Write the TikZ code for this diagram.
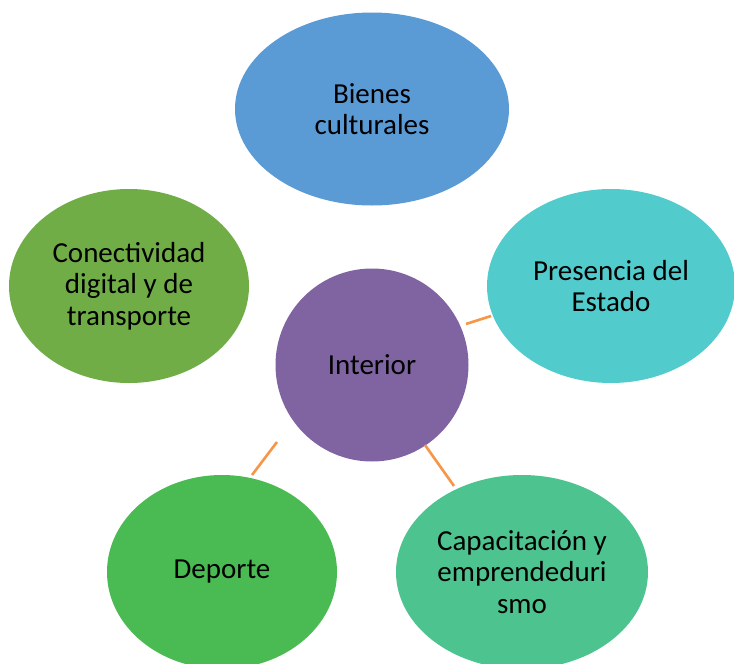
\documentclass[tikz,border=0pt]{standalone}
\usepackage{fontspec}
\setmainfont{Carlito}
\usetikzlibrary{shapes.geometric}
\definecolor{cBlue}{HTML}{5B9BD5}
\definecolor{cOlive}{HTML}{70AD47}
\definecolor{cTeal}{HTML}{51CBCC}
\definecolor{cPurple}{HTML}{8064A2}
\definecolor{cGreen}{HTML}{4ABA52}
\definecolor{cMint}{HTML}{4DC38F}
\definecolor{cOrange}{HTML}{F79646}
\tikzset{
  bubble/.style={ellipse, inner sep=0pt, align=center, text=black,
    font=\fontsize{29}{31.5}\selectfont},
  conn/.style={draw=cOrange, line width=2.6pt}
}
\begin{document}
\begin{tikzpicture}[x=1pt, y=-1pt]
\useasboundingbox (0,0) rectangle (734,664);
\fill[white] (0,0) rectangle (734,664);
\node[bubble, fill=cBlue, minimum width=274pt, minimum height=193pt] (bienes) at (372,109) {Bienes\\culturales};
\node[bubble, fill=cOlive, minimum width=240pt, minimum height=194pt] (conect) at (129,286) {Conectividad\\digital y de\\transporte};
\node[bubble, fill=cTeal, minimum width=248pt, minimum height=194pt] (pres) at (611,286) {Presencia del\\Estado};
\node[bubble, fill=cGreen, minimum width=230pt, minimum height=194pt] (dep) at (222,572) {Deporte};
\node[bubble, fill=cMint, minimum width=252pt, minimum height=194pt] (cap) at (522,572) {Capacitación y\\emprendeduri\\smo};
\node[circle, fill=cPurple, inner sep=0pt, minimum size=193pt, text=black,
  font=\fontsize{29}{31.5}\selectfont] (int) at (372,365) {Interior};
\coordinate (pA) at (466,324);
\coordinate (pB) at (491,316);
\coordinate (dA) at (277,442);
\coordinate (dB) at (252,475);
\coordinate (cA) at (425,445);
\coordinate (cB) at (454,486);
\draw[conn] (pA) -- (pB);
\draw[conn] (dA) -- (dB);
\draw[conn] (cA) -- (cB);
\end{tikzpicture}
\end{document}
